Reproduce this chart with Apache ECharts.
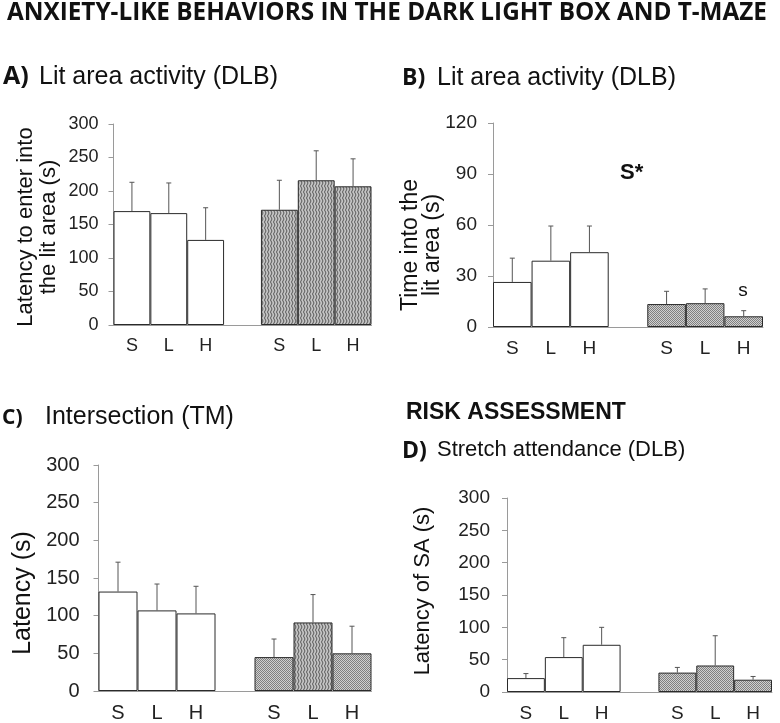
<!DOCTYPE html>
<html>
<head>
<meta charset="utf-8">
<script src="https://cdn.jsdelivr.net/npm/echarts@6/dist/echarts.min.js"></script>
<style>
  html, body { margin: 0; padding: 0; background: #fff; }
  #main { width: 780px; height: 723px; }
</style>
</head>
<body>
<div id="main"></div>
<script>
// groups: saline / low / high dose, two cohorts split by an empty slot
const groups = ['S', 'L', 'H', '', 'S', 'L', 'H'];

// A) latency to enter into the lit area (s)
const latencyLit = [170, 167, 127, null, 172, 216, 207];
const latencyLitSem = [43, 45, 48, null, 44, 44, 41];

// B) time into the lit area (s)
const timeLit = [26.5, 39, 44, null, 13.5, 14, 6.3];
const timeLitSem = [14, 20.4, 15.4, null, 7.5, 8.4, 3.3];

// C) intersection latency (s)
const intersection = [132, 107, 103, null, 45, 91, 50];
const intersectionSem = [39, 35, 36, null, 24, 37, 36];

// D) latency of stretch attendance (s)
const stretch = [21.5, 54, 73, null, 30, 41, 19];
const stretchSem = [7, 30, 27, null, 8, 46, 5];

const FONT = 'Liberation Sans, Arial, sans-serif';
const BOLD = 'Open Sans, Liberation Sans, sans-serif';
const AXIS = '#9a9a9a';

function zigzag() {
  const c = document.createElement('canvas');
  c.width = 3; c.height = 6;
  const g = c.getContext('2d');
  g.fillStyle = '#c4c4c4';
  g.fillRect(0, 0, 3, 6);
  g.strokeStyle = '#575757';
  g.lineWidth = 1;
  g.beginPath();
  g.moveTo(0.5, 0); g.lineTo(2, 3); g.lineTo(0.5, 6);
  g.stroke();
  return c;
}

function dots() {
  const c = document.createElement('canvas');
  c.width = 2; c.height = 2;
  const g = c.getContext('2d');
  g.fillStyle = '#d0d0d0';
  g.fillRect(0, 0, 2, 2);
  g.fillStyle = '#808080';
  g.fillRect(0, 0, 1, 1);
  g.fillRect(1, 1, 1, 1);
  return c;
}

const ZIG = { image: zigzag(), repeat: 'repeat' };
const DOT = { image: dots(), repeat: 'repeat' };

const grids = [
  { left: 113.5, top: 124, width: 258, height: 201 },
  { left: 493, top: 123, width: 270, height: 204 },
  { left: 98.5, top: 465, width: 273, height: 226 },
  { left: 507, top: 498, width: 265, height: 195 }
];

const yScales = [
  { max: 300, interval: 50, size: 18, margin: 15 },
  { max: 120, interval: 30, size: 19, margin: 16 },
  { max: 300, interval: 50, size: 20, margin: 19 },
  { max: 300, interval: 50, size: 19, margin: 17 }
];

function panel(i, means, sems, fills) {
  const white = means.map((v, k) => (k < 3 ? v : '-'));
  const shaded = means.map((v, k) => (k > 3 ? { value: v, itemStyle: { color: fills[k - 4] } } : '-'));
  const errs = [];
  means.forEach((v, k) => { if (v != null) errs.push([k, v, v + sems[k]]); });
  return [
    {
      type: 'bar', xAxisIndex: i, yAxisIndex: i, data: white,
      barWidth: '100%', barGap: '-100%',
      itemStyle: { color: '#fff', borderColor: '#2a2a2a', borderWidth: 1 }
    },
    {
      type: 'bar', xAxisIndex: i, yAxisIndex: i, data: shaded,
      barWidth: '100%', barGap: '-100%',
      itemStyle: { borderColor: '#2a2a2a', borderWidth: 1 }
    },
    {
      type: 'custom', xAxisIndex: i, yAxisIndex: i, data: errs, z: 5,
      renderItem: function (params, api) {
        const k = api.value(0);
        const p0 = api.coord([k, api.value(1)]);
        const p1 = api.coord([k, api.value(2)]);
        const st = { stroke: '#555', lineWidth: 1 };
        return {
          type: 'group',
          children: [
            { type: 'line', shape: { x1: p0[0], y1: p0[1], x2: p1[0], y2: p1[1] }, style: st },
            { type: 'line', shape: { x1: p1[0] - 2.5, y1: p1[1], x2: p1[0] + 2.5, y2: p1[1] }, style: st }
          ]
        };
      }
    }
  ];
}

function label(text, x, y, size, opts) {
  opts = opts || {};
  return {
    type: 'text', x: x, y: y, rotation: opts.rotate ? Math.PI / 2 : 0,
    style: {
      text: text,
      fontSize: size,
      fontFamily: opts.family || FONT,
      fontWeight: opts.bold ? 'bold' : 'normal',
      fill: '#111',
      lineHeight: opts.lineHeight || size * 1.15,
      align: opts.align || 'left',
      verticalAlign: 'middle',
      textAlign: opts.align || 'left',
      textVerticalAlign: 'middle'
    }
  };
}

const chart = echarts.init(document.getElementById('main'));

chart.setOption({
  animation: false,
  backgroundColor: '#fff',
  grid: grids,
  xAxis: grids.map((g, i) => ({
    type: 'category', gridIndex: i, data: groups,
    axisLine: { lineStyle: { color: AXIS, width: 1 } },
    axisTick: { length: 5, lineStyle: { color: AXIS } },
    axisLabel: { fontSize: yScales[i].size, color: '#222', fontFamily: FONT, margin: 12 }
  })),
  yAxis: yScales.map((s, i) => ({
    type: 'value', gridIndex: i, min: 0, max: s.max, interval: s.interval,
    axisLine: { show: true, lineStyle: { color: AXIS, width: 1 } },
    axisTick: { show: true, length: 5, lineStyle: { color: AXIS } },
    splitLine: { show: false },
    axisLabel: { fontSize: s.size, color: '#222', fontFamily: FONT, margin: s.margin }
  })),
  series: [].concat(
    panel(0, latencyLit, latencyLitSem, [ZIG, ZIG, ZIG]),
    panel(1, timeLit, timeLitSem, [DOT, DOT, DOT]),
    panel(2, intersection, intersectionSem, [DOT, ZIG, DOT]),
    panel(3, stretch, stretchSem, [DOT, DOT, DOT])
  ),
  graphic: [
    label('ANXIETY-LIKE BEHAVIORS IN THE DARK LIGHT BOX AND T-MAZE', 7, 13, 24.3, { bold: true, family: BOLD }),
    label('A)', 3, 77, 25, { bold: true, family: BOLD }),
    label('Lit area activity (DLB)', 39, 77, 25),
    label('B)', 402, 78, 23, { bold: true, family: BOLD }),
    label('Lit area activity (DLB)', 437, 78, 25),
    label('C)', 2, 418, 21, { bold: true, family: BOLD }),
    label('Intersection (TM)', 45, 417, 25),
    label('RISK ASSESSMENT', 406, 413, 23, { bold: true }),
    label('D)', 402, 451, 23, { bold: true, family: BOLD }),
    label('Stretch attendance (DLB)', 437, 450, 22),
    label('Latency to enter into\nthe lit area (s)', 37, 227, 22, { rotate: true, align: 'center', lineHeight: 23 }),
    label('Time into the\nlit area (s)', 422, 245, 23, { rotate: true, align: 'center', lineHeight: 22 }),
    label('Latency (s)', 23, 593, 25, { rotate: true, align: 'center' }),
    label('Latency of SA (s)', 423, 591, 22, { rotate: true, align: 'center' }),
    label('S*', 620, 173, 22, { bold: true }),
    label('s', 743, 291, 19, { align: 'center' })
  ]
});
</script>
</body>
</html>
